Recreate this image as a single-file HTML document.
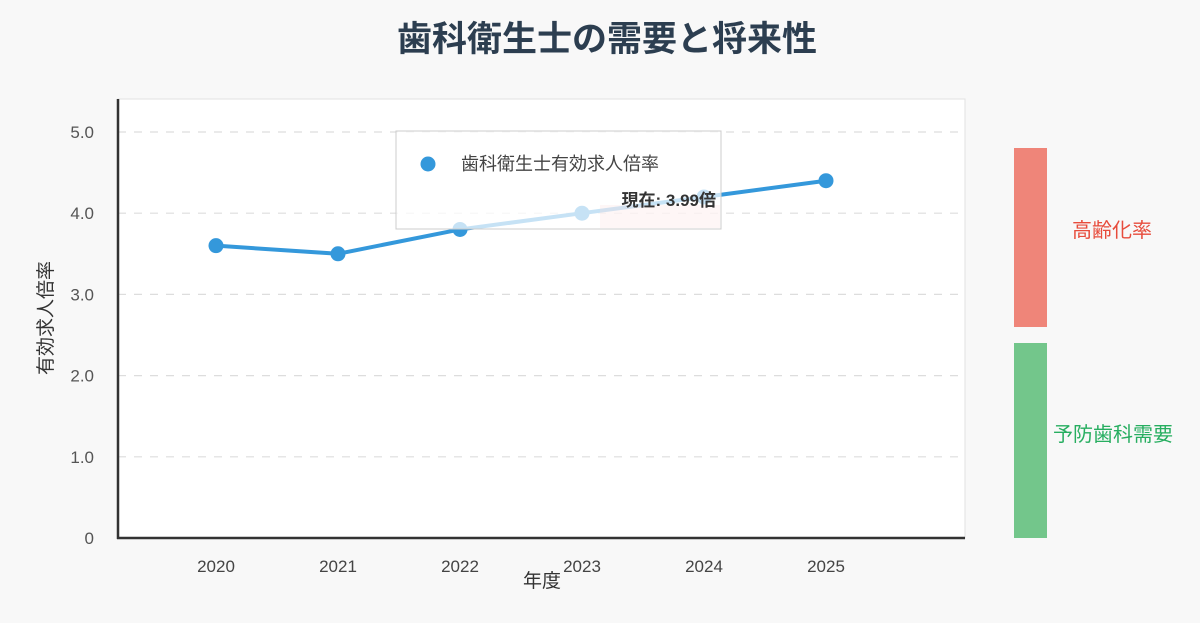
<!DOCTYPE html>
<html><head><meta charset="utf-8"><style>
html,body{margin:0;padding:0;background:#f8f8f8;}
svg{display:block;font-family:"Liberation Sans","Noto Sans CJK JP",sans-serif;}
</style></head><body>
<svg id="c" width="1200" height="623" viewBox="0 0 1200 623">
<rect width="1200" height="623" fill="#f8f8f8"/>
<text x="607" y="51" text-anchor="middle" font-size="35" font-weight="bold" fill="#2c3e50">歯科衛生士の需要と将来性</text>
<rect x="118" y="99" width="847" height="439" fill="#fff" stroke="#e2e2e2"/>
<g id="grid"></g>
<g id="yt"></g>
<g id="xt"></g>
<line x1="118" y1="99" x2="118" y2="539" stroke="#333" stroke-width="2.5"/>
<line x1="117" y1="538" x2="965" y2="538" stroke="#333" stroke-width="2.5"/>
<text transform="translate(52,318) rotate(-90)" text-anchor="middle" font-size="19" fill="#333">有効求人倍率</text>
<text x="542" y="587" text-anchor="middle" font-size="19" fill="#333">年度</text>
<g id="series"></g>
<rect x="396" y="131" width="325" height="98" fill="rgba(255,255,255,0.72)" stroke="#ccc"/>
<rect x="600" y="205" width="120" height="23" fill="rgba(250,220,220,0.25)"/>
<circle cx="428" cy="164" r="7.5" fill="#3498db"/>
<text x="461" y="170" font-size="18" fill="#444">歯科衛生士有効求人倍率</text>
<text x="716" y="206" text-anchor="end" font-size="17" font-weight="bold" fill="#333">現在: 3.99倍</text>
<rect x="1014" y="148" width="33" height="179" fill="#ef8579"/>
<rect x="1014" y="343" width="33" height="195" fill="#73c68b"/>
<text x="1112" y="237" text-anchor="middle" font-size="20" fill="#e74c3c">高齢化率</text>
<text x="1113" y="441" text-anchor="middle" font-size="20" fill="#27ae60">予防歯科需要</text>
</svg>
<script>
const years = ["2020","2021","2022","2023","2024","2025"];
const ratios = [3.6, 3.5, 3.8, 4.0, 4.2, 4.4];
const yTicks = [0, 1, 2, 3, 4, 5];
const yTickLabels = ["0","1.0","2.0","3.0","4.0","5.0"];
const NS="http://www.w3.org/2000/svg";
function y(v){return 538 - v*81.2;}
function x(i){return 216 + i*122;}
function mk(t,a,p){const e=document.createElementNS(NS,t);for(const k in a)e.setAttribute(k,a[k]);p.appendChild(e);return e;}
const grid=document.getElementById('grid'),yt=document.getElementById('yt'),xt=document.getElementById('xt'),ser=document.getElementById('series');
yTicks.forEach((v,i)=>{
  if(v>0){const g=mk('line',{x1:118,x2:965,y1:y(v),y2:y(v),stroke:'#ddd','stroke-dasharray':'8,8','stroke-width':1.2},grid);
  
  }
  const t=mk('text',{x:94,y:y(v)+6,'text-anchor':'end','font-size':17,fill:'#555'},yt);
  t.textContent=yTickLabels[i];
  
  
});
years.forEach((yr,i)=>{
  const t=mk('text',{x:x(i),y:572,'text-anchor':'middle','font-size':17,fill:'#444'},xt);
  t.textContent=yr;
  
  
});
const pl=mk('polyline',{points:ratios.map((v,i)=>x(i)+','+y(v)).join(' '),fill:'none',stroke:'#3498db','stroke-width':4,'stroke-linejoin':'round'},ser);


ratios.forEach((v,i)=>{
  const c=mk('circle',{cx:x(i),cy:y(v),r:7.5,fill:'#3498db'},ser);
  
  
});
</script>
</body></html>
